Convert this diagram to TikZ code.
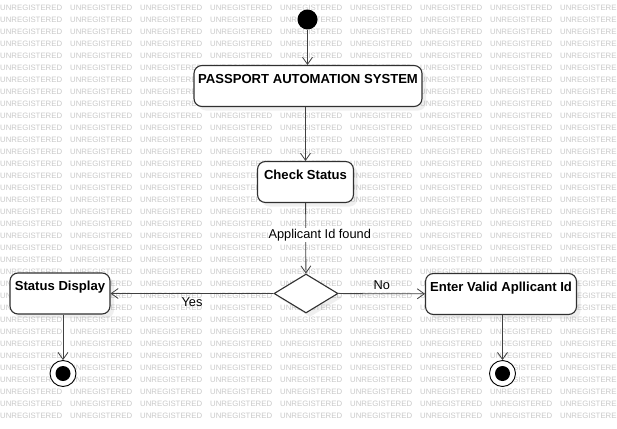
\documentclass[tikz,border=0pt]{standalone}
\usepackage{fontspec}
\setmainfont{Liberation Sans}
\usetikzlibrary{shapes.geometric,arrows.meta,shadows}
\definecolor{linegray}{HTML}{404040}
\definecolor{boxgray}{HTML}{303030}
\definecolor{markgray}{HTML}{C9C9C9}

\begin{document}
\begin{tikzpicture}[x=1pt,y=-1pt,>={Straight Barb[length=7pt,width=10pt]},
  watermark/.style={anchor=west,inner sep=0,text=markgray,font=\fontsize{7.8}{8}\selectfont},
  state/.style={shape=rectangle,rounded corners=8pt,draw=boxgray,line width=1.1pt,fill=white,
    inner sep=0,text height=17.5pt,text depth=23.5pt,font=\bfseries\fontsize{13.1}{15}\selectfont,
    drop shadow={shadow xshift=4pt,shadow yshift=-4pt,opacity=0.12}},
  lbl/.style={inner sep=1pt,font=\fontsize{12.8}{15}\selectfont},
  flow/.style={->,draw=linegray,line width=0.8pt},
  endstate/.style={shape=circle,draw=black,line width=0.9pt,fill=white,minimum size=26pt,inner sep=0,
    path picture={\fill[black] (path picture bounding box.center) circle (7.5pt);}}]
\useasboundingbox (0,0) rectangle (617,428);
\fill[white] (0,0) rectangle (617,428);
% background watermark
\foreach \r in {0,...,34}
  \foreach \c in {0,...,8}
    \node (wm-\r-\c) [watermark] at (70*\c, 8+12*\r) {UNREGISTERED};
\node (start) at (307.5, 19.5) [shape=circle,fill=black,minimum size=20pt,inner sep=0] {};
\node (pas) at (308, 86) [state,minimum width=228pt] {PASSPORT AUTOMATION SYSTEM};
\node (check) at (305.5, 182) [state,minimum width=96pt] {Check Status};
\node (dec) at (306, 293.5) [shape=diamond,draw=boxgray,line width=1.1pt,fill=white,
  minimum width=64pt,minimum height=39pt,inner sep=0,
  drop shadow={shadow xshift=4pt,shadow yshift=-4pt,opacity=0.12}] {};
\node (disp) at (60, 293.5) [state,minimum width=100pt] {Status Display};
\node (valid) at (501, 294) [state,minimum width=151pt] {Enter Valid Apllicant Id};
\node (end1) at (63, 373.5) [endstate] {};
\node (end2) at (502.5, 373.5) [endstate] {};
\draw [flow] (start) -- (start |- pas.north);
\draw [flow] (pas.south -| check) -- (check);
\draw [flow] (check) -- node [lbl,fill=white,pos=0.46,xshift=14pt] {Applicant Id found} (dec);
\draw [flow] (dec) -- node [lbl,below=3pt] {Yes} (disp);
\draw [flow] (dec) -- node [lbl,above=3pt] {No} (valid);
\draw [flow] (disp.south -| end1) -- (end1);
\draw [flow] (valid.south -| end2) -- (end2);
\end{tikzpicture}
\end{document}
